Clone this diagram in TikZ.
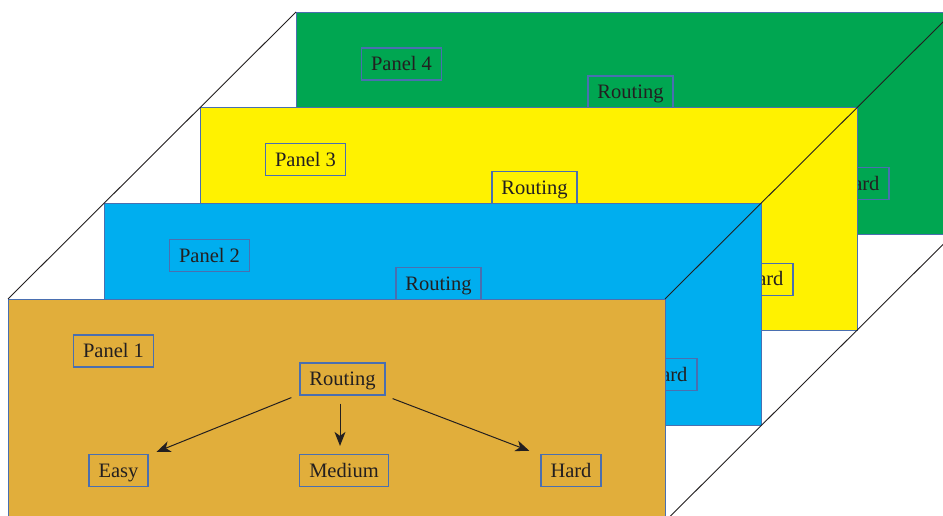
\documentclass[tikz,border=0pt]{standalone}
\usepackage{fontspec}
\setmainfont{Liberation Serif}
\usetikzlibrary{arrows.meta}
\definecolor{pOrange}{HTML}{E1AE3B}
\definecolor{pCyan}{HTML}{00AEEF}
\definecolor{pYellow}{HTML}{FFF200}
\definecolor{pGreen}{HTML}{00A651}
\definecolor{edgeBlue}{HTML}{4A6FB0}
\definecolor{ink}{HTML}{231F20}
\begin{document}
\begin{tikzpicture}[x=1pt,y=-1pt,
  panel/.style={draw=edgeBlue, line width=0.9pt, rectangle, inner sep=0pt, outer sep=0pt,
    minimum width=657pt, minimum height=222.5pt, anchor=north west},
  lab/.style={draw=edgeBlue, line width=1.2pt, inner xsep=9.5pt, inner ysep=0pt,
    text height=18pt, text depth=4.6pt,
    minimum height=32pt, text=ink, font=\fontsize{20.5}{24}\selectfont},
  arr/.style={draw=ink, line width=1pt, -{Stealth[length=14pt,width=11pt,inset=4pt]}},
  link/.style={draw=ink, line width=0.9pt}]
\clip (0,0) rectangle (943,516);
\fill[white] (0,0) rectangle (943,516);
\foreach \i/\c in {4/pGreen,3/pYellow,2/pCyan,1/pOrange}{
  \begin{scope}[shift={({(\i-1)*96},{-(\i-1)*95.67})}]
    \node[panel, fill=\c] (P\i) at (8,299) {};
    \node[lab] (L\i) at (113.5,351) {Panel \i};
    \node[lab] (R\i) at (342.5,379) {Routing};
    \node[lab] (E\i) at (118.5,470.5) {Easy};
    \node[lab] (M\i) at (344,470.5) {Medium};
    \node[lab] (H\i) at (571,470.5) {Hard};
    \draw[arr] ([shift={(-8,2)}]R\i.south west) -- ([shift={(8,-2)}]E\i.north east);
    \draw[arr] ([shift={(-2.5,8)}]R\i.south) -- ([shift={(-4,-8)}]M\i.north);
    \draw[arr] ([shift={(7,3)}]R\i.south east) -- ([shift={(-11,-3)}]H\i.north west);
  \end{scope}
}
\draw[link] (P1.north west) -- (P4.north west);
\draw[link] (P1.north east) -- (P4.north east);
\draw[link] (P1.south east) -- (P4.south east);
\end{tikzpicture}
\end{document}
